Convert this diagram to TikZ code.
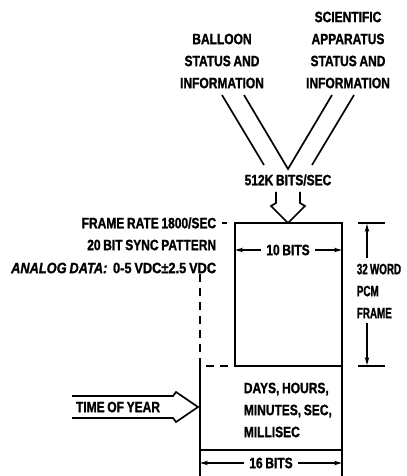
\documentclass[tikz,border=0pt]{standalone}
\usepackage{graphicx}
\usepackage{fontspec}
\setmainfont{Liberation Sans}[FakeStretch=0.8, FakeBold=1.2, WordSpace=0.8]
\usetikzlibrary{arrows.meta}

\tikzset{
  lbl/.style={font=\fontsize{15bp}{22bp}\selectfont\bfseries, inner sep=0pt},
  dimline/.style={line width=1.3bp},
  leader/.style={dash pattern=on 8bp off 6bp},
}
\newcommand{\narrow}[1]{\scalebox{0.82}[1]{#1}}

\begin{document}
\begin{tikzpicture}[x=1bp,y=-1bp,line width=1.7bp,>={Stealth[length=8bp,width=4.5bp]}]
  \useasboundingbox (0,0) rectangle (406,476);
  % data sources
  \node[lbl,align=center] (balloon) at (222,61) {BALLOON\\STATUS AND\\INFORMATION};
  \node[lbl,align=center] (sci) at (348,50) {SCIENTIFIC\\APPARATUS\\STATUS AND\\INFORMATION};
  \coordinate (v) at (288,169);
  \draw (222,95) -- (264,165);
  \draw (244,95) -- (v) -- (332,95);
  \draw (354,95) -- (312,165);
  \node[lbl] (rate) at (288,180) {512K BITS/SEC};
  \draw (276,192) -- (276,203) -- (271,206) -- (288,223) -- (305,206) -- (300,203) -- (300,192);
  % frame blocks
  \coordinate (tl) at (235,223);
  \coordinate (tr) at (342,223);
  \coordinate (ml) at (235,366);
  \coordinate (mr) at (342,366);
  \coordinate (bl) at (200,450);
  \coordinate (br) at (342,450);
  \draw (ml) -- (tl) -- (tr) -- (br) -- (bl) -- (200,366);
  \draw (ml) -- (mr);
  \draw[leader] (200,274) -- (200,366) -- (ml);
  % left notes
  \node[lbl,anchor=east] (frate) at (217,223) {FRAME RATE 1800/SEC};
  \node[lbl,anchor=east] (sync) at (217,245) {20 BIT SYNC PATTERN};
  \node[lbl,anchor=east] (analog) at (217,268) {\resizebox{205bp}{\height}{\itshape ANALOG DATA:\ \ \upshape 0-5 VDC±2.5 VDC}};
  \draw[dash pattern=on 5bp off 8bp] ([xshift=5bp]frate.east) -- (tl);
  % 10 bits
  \node[lbl,inner xsep=4bp] (ten) at (288,250) {10 BITS};
  \draw[dimline,->] (ten.west) -- (tl |- ten);
  \draw[dimline,->] (ten.east) -- (tr |- ten);
  % 32 word frame
  \node[lbl,align=left,anchor=west] (pcm) at (356,291) {\narrow{32 WORD}\\\narrow{PCM}\\\narrow{FRAME}};
  \draw (358,223) -- (385,223);
  \draw (358,366) -- (385,366);
  \draw[dimline,->] (367,258) -- (367,224);
  \draw[dimline,->] (367,323) -- (367,365);
  % time code
  \node[lbl,align=left,anchor=west] (clock) at (243,410) {DAYS, HOURS,\\MINUTES, SEC,\\MILLISEC};
  \node[lbl] (toy) at (118,407) {TIME OF YEAR};
  \draw (72,396) -- (173,396) -- (176,392) -- (198,407) -- (176,422) -- (173,418) -- (72,418);
  % 16 bits
  \node[lbl,inner xsep=4bp] (sixteen) at (271,463) {16 BITS};
  \draw (bl) -- (200,476);
  \draw (br) -- (342,476);
  \draw[dimline,->] (sixteen.west) -- (bl |- sixteen);
  \draw[dimline,->] (sixteen.east) -- (br |- sixteen);
\end{tikzpicture}
\end{document}
